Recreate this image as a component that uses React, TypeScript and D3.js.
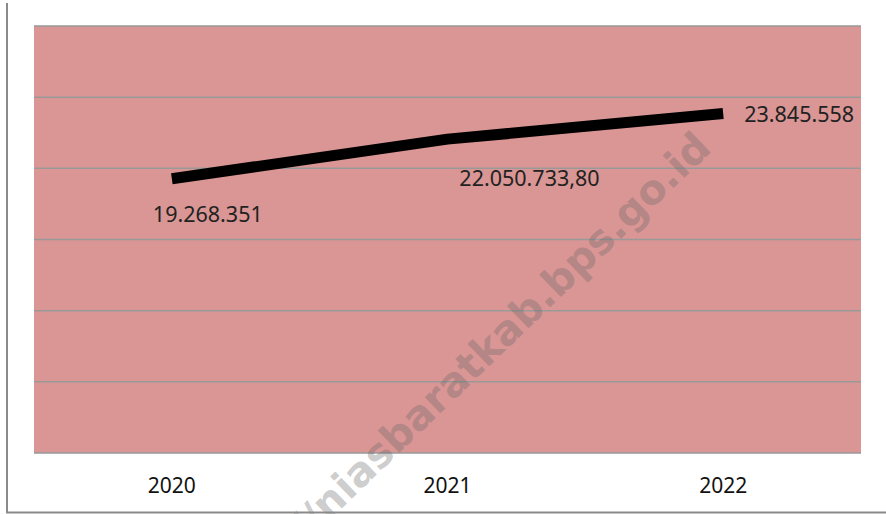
import React from "react";
import * as d3 from "d3";

const years = ["2020", "2021", "2022"];
const values = [19268351, 22050733.8, 23845558];
const valueLabels = ["19.268.351", "22.050.733,80", "23.845.558"];
const yTicks = [0, 5000000, 10000000, 15000000, 20000000, 25000000, 30000000];

const W = 886;
const H = 514;
const plot = { left: 34, right: 861, top: 26, bottom: 453 };
const labelOffsets = [
  { dx: 36, dy: 43 },
  { dx: 82, dy: 47 },
  { dx: 76, dy: 8 },
];
const font = "'Noto Sans', 'Open Sans', sans-serif";

export default function App() {
  const x = d3.scaleBand<string>().domain(years).range([plot.left, plot.right]);
  const y = d3.scaleLinear().domain([0, 30000000]).range([plot.bottom, plot.top]);
  const cx = (yr: string) => (x(yr) as number) + x.bandwidth() / 2;
  const line = d3
    .line<number>()
    .x((_, i) => cx(years[i]))
    .y((d) => y(d));

  return (
    <svg
      width={W}
      height={H}
      style={{ position: "absolute", left: 0, top: 0, background: "#fff" }}
    >
      <rect
        x={plot.left}
        y={plot.top}
        width={plot.right - plot.left}
        height={plot.bottom - plot.top}
        fill="#D99694"
      />
      {yTicks.map((t) => (
        <line
          key={t}
          x1={plot.left}
          x2={plot.right}
          y1={y(t)}
          y2={y(t)}
          stroke="#999"
          strokeWidth={1.5}
        />
      ))}
      <path
        d={line(values) || ""}
        fill="none"
        stroke="#000"
        strokeWidth={11}
        strokeLinejoin="round"
        strokeLinecap="butt"
      />
      {values.map((v, i) => (
        <text
          key={i}
          x={cx(years[i]) + labelOffsets[i].dx}
          y={y(v) + labelOffsets[i].dy}
          textAnchor="middle"
          fontFamily={font}
          fontSize={21.5}
          fill="#222"
        >
          {valueLabels[i]}
        </text>
      ))}
      {years.map((yr) => (
        <text
          key={yr}
          x={cx(yr)}
          y={493}
          textAnchor="middle"
          fontFamily={font}
          fontSize={21}
          fill="#111"
        >
          {yr}
        </text>
      ))}
      <text
        transform="translate(713,150) rotate(-44)"
        textAnchor="end"
        fontFamily="'DejaVu Sans', sans-serif"
        fontWeight="bold"
        fontSize={41}
        fill="rgba(100,100,100,0.32)"
      >
        http://niasbaratkab.bps.go.id
      </text>
      <line x1={7} x2={7} y1={3} y2={513} stroke="#8a8a8a" strokeWidth={2} />
      <line x1={6} x2={886} y1={512.5} y2={512.5} stroke="#8a8a8a" strokeWidth={2} />
    </svg>
  );
}
